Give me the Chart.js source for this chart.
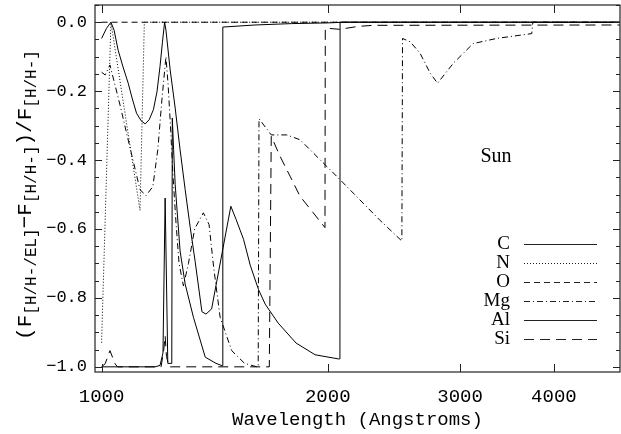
<!DOCTYPE html>
<html lang="en">
<head>
<meta charset="UTF-8">
<title>Sun</title>
<style>
  html, body { margin: 0; padding: 0; background: #fff; }
  #myChart { display: block; }
</style>
</head>
<body>
<canvas id="myChart" width="621" height="434"></canvas>
<script src="https://cdn.jsdelivr.net/npm/chart.js"></script>
<script>
// wavelength (Angstroms) and (F[H/H-/EL]-F[H/H-])/F[H/H-]
const cWave  = [1000, 1178, 1196, 1207, 1215, 1225, 1240, 1242, 1247, 1253, 1272, 1292, 1325, 1374, 1420, 1448, 1450, 1600, 1790, 2000, 2100, 4898];
const cFlux  = [-1.0, -1.0, -0.996, -0.96, -0.51, -0.99, -0.99, -0.278, -0.37, -0.471, -0.664, -0.76, -0.856, -0.972, -0.99, -0.997, -0.014, -0.008, -0.004, -0.002, 0, 0];

const nWave  = [1000, 1029, 1058, 1091, 1125, 1140, 4898];
const nFlux  = [-0.93, 0, -0.17, -0.358, -0.546, 0, 0];

const oWave  = [1000, 4898];
const oFlux  = [0, 0];

const mgWave = [1000, 1011, 1026, 1058, 1091, 1125, 1146, 1170, 1188, 1203, 1218, 1226, 1235, 1245, 1256, 1268, 1285, 1305, 1330, 1366, 1390, 1410, 1438, 1490, 1550, 1610, 1616, 1620, 1682, 1764, 1837, 2077, 2348, 2510, 2515, 2576, 2654, 2738, 2800, 2939, 3122, 3356, 3737, 3750, 4898];
const mgFlux = [-0.145, -0.153, -0.124, -0.24, -0.364, -0.486, -0.503, -0.477, -0.37, -0.225, -0.10, -0.18, -0.30, -0.45, -0.58, -0.70, -0.765, -0.70, -0.60, -0.553, -0.587, -0.712, -0.856, -0.953, -0.99, -1.0, -1.0, -0.28, -0.327, -0.327, -0.341, -0.457, -0.575, -0.635, -0.047, -0.057, -0.09, -0.148, -0.177, -0.119, -0.062, -0.047, -0.033, 0, 0];

const alWave = [1000, 1015, 1029, 1039, 1052, 1068, 1085, 1098, 1113, 1129, 1143, 1157, 1172, 1185, 1196, 1205, 1213, 1218, 1234, 1253, 1272, 1292, 1312, 1332, 1360, 1377, 1401, 1486, 1510, 1545, 1577, 1617, 1651, 1718, 1815, 1924, 2066, 2076, 2077, 4898];
const alFlux = [-0.047, -0.018, 0, -0.023, -0.081, -0.130, -0.177, -0.220, -0.264, -0.286, -0.295, -0.283, -0.254, -0.202, -0.129, -0.058, 0, -0.023, -0.139, -0.249, -0.37, -0.486, -0.595, -0.694, -0.84, -0.847, -0.832, -0.534, -0.572, -0.63, -0.705, -0.775, -0.818, -0.873, -0.931, -0.965, -0.977, -0.977, 0, 0];

const siWave = [1000, 1011, 1026, 1042, 1050, 1200, 1210, 1215, 1220, 1230, 1672, 1682, 1728, 1782, 1837, 1913, 1983, 1985, 2008, 2087, 2111, 2196, 2300, 4898];
const siFlux = [-1.0, -0.991, -0.953, -0.991, -1.0, -1.0, -0.95, -0.91, -0.97, -1.0, -1.0, -0.331, -0.389, -0.447, -0.505, -0.553, -0.596, -0.018, -0.018, -0.021, -0.018, -0.012, -0.009, -0.008];

const xTicks = [1000, 2000, 3000, 4000];
const yTicks = [-1.0, -0.8, -0.6, -0.4, -0.2, 0.0];

const elements = [
    { label: 'C',  wave: cWave,  flux: cFlux,  dash: [] },
    { label: 'N',  wave: nWave,  flux: nFlux,  dash: [1, 2] },
    { label: 'O',  wave: oWave,  flux: oFlux,  dash: [6, 4] },
    { label: 'Mg', wave: mgWave, flux: mgFlux, dash: [6, 3, 1, 3] },
    { label: 'Al', wave: alWave, flux: alFlux, dash: [] },
    { label: 'Si', wave: siWave, flux: siFlux, dash: [10, 6] }
];

function toPoints(wave, flux) {
    return wave.map((w, i) => ({ x: w, y: flux[i] }));
}

// box, inward ticks, y title with subscripts, legend and the "Sun" label
const decorations = {
    id: 'decorations',
    afterDraw(chart) {
        const ctx = chart.ctx;
        const a = chart.chartArea;
        const xs = chart.scales.x, ys = chart.scales.y;
        ctx.save();
        ctx.strokeStyle = '#222';
        ctx.lineWidth = 1.2;
        ctx.setLineDash([]);
        ctx.strokeRect(a.left, a.top, a.right - a.left, a.bottom - a.top);

        ctx.lineWidth = 1;
        ctx.beginPath();
        xTicks.forEach(v => {
            const px = Math.round(xs.getPixelForValue(v)) + 0.5;
            ctx.moveTo(px, a.bottom); ctx.lineTo(px, a.bottom - 8);
            ctx.moveTo(px, a.top);    ctx.lineTo(px, a.top + 8);
        });
        for (let k = -20; k <= 1; k++) {
            const v = k * 0.05;
            const py = Math.round(ys.getPixelForValue(v)) + 0.5;
            const len = (k % 4 === 0) ? 7 : 4;
            ctx.moveTo(a.left, py);  ctx.lineTo(a.left + len, py);
            ctx.moveTo(a.right, py); ctx.lineTo(a.right - len, py);
        }
        ctx.stroke();

        // y axis title
        ctx.fillStyle = '#000';
        const parts = [
            ['(F', 0], ['[H/H-/EL]', 1], ['\u2212F', 0], ['[H/H-]', 1], [')/F', 0], ['[H/H-]', 1]
        ];
        const big = '21px "Liberation Mono"', small = '16px "Liberation Mono"';
        let total = 0;
        parts.forEach(p => { ctx.font = p[1] ? small : big; total += ctx.measureText(p[0]).width; });
        ctx.translate(31, 195);
        ctx.rotate(-Math.PI / 2);
        let cx = -total / 2;
        ctx.textBaseline = 'alphabetic';
        ctx.textAlign = 'left';
        parts.forEach(p => {
            ctx.font = p[1] ? small : big;
            ctx.fillText(p[0], cx, p[1] ? 5 : 0);
            cx += ctx.measureText(p[0]).width;
        });
        ctx.setTransform(1, 0, 0, 1, 0, 0);

        // legend
        ctx.font = '19px "Liberation Serif"';
        ctx.textAlign = 'right';
        ctx.textBaseline = 'middle';
        chart.data.datasets.forEach((ds, i) => {
            const y = 244 + i * 19;
            ctx.fillText(ds.label, 510, y);
            ctx.beginPath();
            ctx.setLineDash(ds.borderDash);
            ctx.lineWidth = 1;
            ctx.moveTo(524, y + 0.5);
            ctx.lineTo(597, y + 0.5);
            ctx.stroke();
        });
        ctx.setLineDash([]);

        ctx.textAlign = 'center';
        ctx.font = '20px "Liberation Serif"';
        ctx.fillText('Sun', 496, 157);
        ctx.restore();
    }
};

const ctx = document.getElementById('myChart').getContext('2d');
new Chart(ctx, {
    type: 'scatter',
    data: {
        datasets: elements.map(e => ({
            label: e.label,
            data: toPoints(e.wave, e.flux),
            showLine: true,
            borderColor: '#000',
            borderWidth: 1,
            borderDash: e.dash,
            pointRadius: 0,
            tension: 0,
            fill: false
        }))
    },
    options: {
        responsive: false,
        animation: false,
        devicePixelRatio: 1,
        layout: { padding: { top: 5, right: 1, left: 0, bottom: 0 } },
        plugins: {
            legend: { display: false },
            tooltip: { enabled: false }
        },
        scales: {
            x: {
                type: 'logarithmic',
                min: 980,
                max: 4898,
                afterBuildTicks: scale => { scale.ticks = xTicks.map(v => ({ value: v })); },
                afterFit: scale => { scale.height = 62; scale.paddingLeft = 0; scale.paddingRight = 0; },
                grid: { display: false, drawTicks: false },
                border: { display: false },
                ticks: {
                    autoSkip: false,
                    maxRotation: 0,
                    padding: 14,
                    color: '#000',
                    font: { family: 'Liberation Mono', size: 19 },
                    callback: v => String(v)
                },
                title: {
                    display: true,
                    text: 'Wavelength (Angstroms)',
                    color: '#000',
                    font: { family: 'Liberation Mono', size: 19 },
                    padding: { top: 0, bottom: 3 }
                }
            },
            y: {
                min: -1.015,
                max: 0.05,
                afterBuildTicks: scale => { scale.ticks = yTicks.map(v => ({ value: v })); },
                afterFit: scale => { scale.width = 95; scale.paddingTop = 0; scale.paddingBottom = 0; },
                grid: { display: false, drawTicks: false },
                border: { display: false },
                ticks: {
                    padding: 8,
                    color: '#000',
                    font: { family: 'Liberation Mono', size: 17 },
                    callback: v => (Math.abs(v) < 1e-9 ? '0.0' : '\u2212' + Math.abs(v).toFixed(1))
                }
            }
        }
    },
    plugins: [decorations]
});
</script>
</body>
</html>
